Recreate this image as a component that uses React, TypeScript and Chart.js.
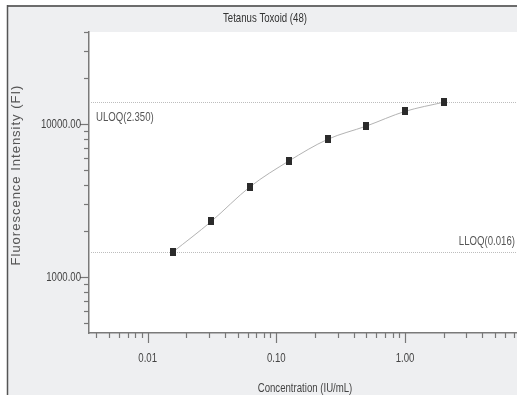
import { useEffect, useRef } from "react";
import { Chart, registerables } from "chart.js";

Chart.register(...registerables);

// Standard curve: concentration (IU/mL) vs. fluorescence intensity
const concentrations = [0.015625, 0.03125, 0.0625, 0.125, 0.25, 0.5, 1, 2];
const fluorescence = [1450, 2310, 3890, 5730, 7940, 9700, 12100, 13900];

const xTickValues = [0.01, 0.1, 1];
const xTickLabels = ["0.01", "0.10", "1.00"];
const yTickValues = [1000, 10000];
const yTickLabels = ["1000.00", "10000.00"];

const limitLabels = ["ULOQ(2.350)", "LLOQ(0.016)"];
const limitFI = [13900, 1450];

const titleText = "Tetanus Toxoid (48)";
const xTitle = "Concentration (IU/mL)";
const yTitle = "Fluorescence Intensity (FI)";

const X_MIN = 0.0035;
const X_MAX = 7.55;
const Y_MIN = 430;
const Y_MAX = 40000;

const WIDTH = 518;
const HEIGHT = 395;

const FONT = '"Liberation Sans", Arial, sans-serif';

const logTicks = (min: number, max: number) => {
  const out: { v: number; major: boolean }[] = [];
  for (let e = Math.floor(Math.log10(min)); e <= Math.ceil(Math.log10(max)); e++) {
    for (let m = 1; m <= 9; m++) {
      const v = m * Math.pow(10, e);
      if (v >= min * 0.9999 && v <= max * 1.0001) out.push({ v, major: m === 1 });
    }
  }
  return out;
};

// Condensed text: regular face squeezed horizontally
const narrowText = (
  ctx: CanvasRenderingContext2D,
  text: string,
  x: number,
  y: number,
  align: CanvasTextAlign,
  color: string,
  size = 13,
  squeeze = 0.74
) => {
  ctx.save();
  ctx.translate(x, y);
  ctx.scale(squeeze, 1);
  ctx.font = `${size}px ${FONT}`;
  ctx.fillStyle = color;
  ctx.textAlign = align;
  ctx.textBaseline = "middle";
  ctx.fillText(text, 0, 0);
  ctx.restore();
};

const framePlugin = {
  id: "frame",
  beforeDraw(chart: any) {
    const { ctx, width, height, chartArea: a } = chart;
    ctx.save();
    ctx.fillStyle = "#ffffff";
    ctx.fillRect(0, 0, width, height);
    // panel background, one white column kept at the right edge
    ctx.fillStyle = "#eeeff1";
    ctx.fillRect(7, 6, width - 8, height - 6);
    ctx.fillStyle = "#ffffff";
    ctx.fillRect(a.left, a.top, a.right - a.left, a.bottom - a.top);

    ctx.strokeStyle = "#6c6c6c";
    ctx.lineWidth = 2;
    ctx.beginPath();
    ctx.moveTo(7, 6);
    ctx.lineTo(width - 1, 6);
    ctx.stroke();
    ctx.strokeStyle = "#555555";
    ctx.lineWidth = 1.5;
    ctx.beginPath();
    ctx.moveTo(7.5, 5);
    ctx.lineTo(7.5, height);
    ctx.stroke();
    ctx.restore();

    narrowText(ctx, titleText, 265, 18, "center", "#333333");
  },
  beforeDatasetsDraw(chart: any) {
    const { ctx, chartArea: a, scales } = chart;
    const y = scales.y;
    ctx.save();
    ctx.strokeStyle = "#bdbdbd";
    ctx.lineWidth = 1;
    ctx.setLineDash([1, 1]);
    limitFI.forEach((fi) => {
      const py = Math.round(y.getPixelForValue(fi)) + 0.5;
      ctx.beginPath();
      ctx.moveTo(a.left, py);
      ctx.lineTo(a.right, py);
      ctx.stroke();
    });
    ctx.restore();
    narrowText(ctx, limitLabels[0], a.left + 7, y.getPixelForValue(limitFI[0]) + 15, "left", "#555555");
    narrowText(ctx, limitLabels[1], 515, y.getPixelForValue(limitFI[1]) - 11, "right", "#555555");
  },
  afterDraw(chart: any) {
    const { ctx, chartArea: a, scales, width, height } = chart;
    const x = scales.x;
    const y = scales.y;
    ctx.save();
    ctx.strokeStyle = "#777777";
    ctx.lineWidth = 1.2;
    logTicks(X_MIN, X_MAX).forEach(({ v, major }) => {
      const px = Math.round(x.getPixelForValue(v)) + 0.5;
      ctx.beginPath();
      ctx.moveTo(px, a.bottom);
      ctx.lineTo(px, a.bottom + (major ? 10 : 5));
      ctx.stroke();
    });
    logTicks(Y_MIN, Y_MAX).forEach(({ v, major }) => {
      const py = Math.round(y.getPixelForValue(v)) + 0.5;
      ctx.beginPath();
      ctx.moveTo(a.left, py);
      ctx.lineTo(a.left - (major ? 9 : 5), py);
      ctx.stroke();
    });
    // clean right edge column
    ctx.fillStyle = "#ffffff";
    ctx.fillRect(width - 1, 0, 1, height);
    ctx.restore();

    xTickValues.forEach((v, i) => {
      narrowText(ctx, xTickLabels[i], x.getPixelForValue(v), 358, "center", "#444444");
    });
    yTickValues.forEach((v, i) => {
      narrowText(ctx, yTickLabels[i], a.left - 8, y.getPixelForValue(v), "right", "#444444");
    });
    narrowText(ctx, xTitle, 305, 388, "center", "#444444");

    ctx.save();
    ctx.translate(16, 175);
    ctx.rotate(-Math.PI / 2);
    ctx.font = `13px ${FONT}`;
    (ctx as any).letterSpacing = "1px";
    ctx.fillStyle = "#555555";
    ctx.textAlign = "center";
    ctx.textBaseline = "middle";
    ctx.fillText(yTitle, 0, 0);
    ctx.restore();
  },
};

export default function App() {
  const ref = useRef<HTMLCanvasElement>(null);

  useEffect(() => {
    document.body.style.margin = "0";
    document.body.style.overflow = "hidden";
    const canvas = ref.current;
    if (!canvas) return;

    const marker = document.createElement("canvas");
    marker.width = 6;
    marker.height = 8;
    const mctx = marker.getContext("2d");
    if (mctx) {
      mctx.fillStyle = "#2b2b2b";
      mctx.fillRect(0, 0, 6, 8);
    }

    const points = concentrations.map((c, i) => ({ x: c, y: fluorescence[i] }));

    const chart = new Chart(canvas, {
      type: "scatter",
      data: {
        datasets: [
          {
            label: "Standards",
            data: points,
            pointStyle: marker as any,
            pointRadius: 4,
            showLine: false,
          },
          {
            label: "Fit",
            data: points,
            showLine: true,
            borderColor: "#b3b3b3",
            borderWidth: 1,
            pointRadius: 0,
            tension: 0.4,
            cubicInterpolationMode: "monotone",
          },
        ],
      },
      options: {
        responsive: false,
        animation: false,
        events: [],
        layout: { autoPadding: false, padding: { top: 32, left: 0, right: 0, bottom: 0 } },
        plugins: { legend: { display: false }, tooltip: { enabled: false } },
        scales: {
          x: {
            type: "logarithmic",
            min: X_MIN,
            max: X_MAX,
            grid: { display: false, drawTicks: false },
            border: { display: true, color: "#7a7a7a", width: 1.5 },
            afterFit: (s: any) => {
              s.height = 62;
            },
            ticks: { display: false },
          },
          y: {
            type: "logarithmic",
            min: Y_MIN,
            max: Y_MAX,
            grid: { display: false, drawTicks: false },
            border: { display: true, color: "#7a7a7a", width: 1.5 },
            afterFit: (s: any) => {
              s.width = 89;
            },
            ticks: { display: false },
          },
        },
      },
      plugins: [framePlugin],
    });

    return () => chart.destroy();
  }, []);

  return (
    <div
      style={{
        position: "fixed",
        left: 0,
        top: 0,
        width: WIDTH,
        height: HEIGHT,
        overflow: "hidden",
        background: "#ffffff",
      }}
    >
      <canvas ref={ref} width={WIDTH} height={HEIGHT} style={{ display: "block" }} />
    </div>
  );
}
